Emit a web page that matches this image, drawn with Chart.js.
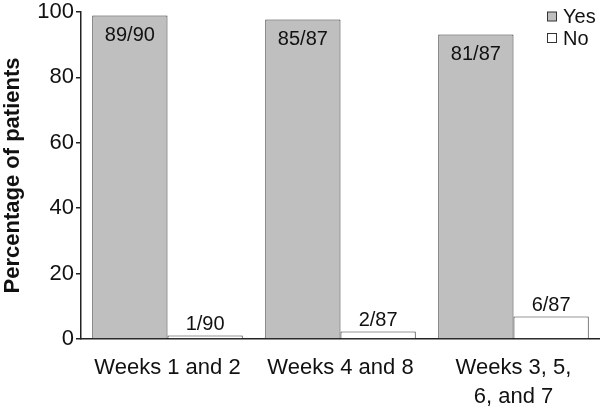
<!DOCTYPE html>
<html>
<head>
<meta charset="utf-8">
<script src="https://cdn.jsdelivr.net/npm/chart.js@4/dist/chart.umd.min.js"></script>
<style>
html,body{margin:0;padding:0;background:#fff;}
#wrap{width:600px;height:407px;}
</style>
</head>
<body>
<div id="wrap"><canvas id="c" width="600" height="407"></canvas></div>
<script>
const categories = ["Weeks 1 and 2", "Weeks 4 and 8", ["Weeks 3, 5,", "6, and 7"]];
const seriesNames = ["Yes", "No"];
const yesValues = [98.9, 97.7, 93.1];
const noValues = [1.1, 2.3, 6.9];
const yesLabels = ["89/90", "85/87", "81/87"];
const noLabels = ["1/90", "2/87", "6/87"];
const yTicks = [0, 20, 40, 60, 80, 100];

const FONT = "'Liberation Sans', Arial, Helvetica, sans-serif";

const labelPlugin = {
  id: 'labels',
  afterDatasetsDraw(chart) {
    const ctx = chart.ctx;
    ctx.save();
    ctx.font = "20px " + FONT;
    ctx.fillStyle = "#111";
    ctx.textAlign = "center";
    const m0 = chart.getDatasetMeta(0);
    const m1 = chart.getDatasetMeta(1);
    m0.data.forEach((bar, i) => {
      ctx.textBaseline = "middle";
      ctx.fillText(yesLabels[i], bar.x, bar.y + 20);
    });
    m1.data.forEach((bar, i) => {
      ctx.textBaseline = "bottom";
      ctx.fillText(noLabels[i], bar.x, bar.y - 1);
    });
    // legend
    const items = chart.data.datasets;
    const lx = 547, ly = [16.5, 38];
    ctx.textAlign = "left";
    ctx.textBaseline = "middle";
    items.forEach((ds, i) => {
      ctx.fillStyle = ds.backgroundColor;
      ctx.fillRect(lx + 0.5, ly[i] - 4.5, 9, 9);
      ctx.strokeStyle = "#333";
      ctx.lineWidth = 1;
      ctx.strokeRect(lx + 0.5, ly[i] - 4.5, 9, 9);
      ctx.fillStyle = "#111";
      ctx.font = "20px " + FONT;
      ctx.fillText(ds.label, lx + 16, ly[i] + 1);
    });
    ctx.restore();
  }
};

new Chart(document.getElementById('c'), {
  type: 'bar',
  data: {
    labels: categories,
    datasets: [
      { label: seriesNames[0], data: yesValues, backgroundColor: "#bfbfbf", borderColor: "#333", borderWidth: 1 },
      { label: seriesNames[1], data: noValues, backgroundColor: "#ffffff", borderColor: "#333", borderWidth: 1 }
    ]
  },
  options: {
    responsive: false,
    animation: false,
    events: [],
    layout: { padding: { top: 10, right: 0, left: 0, bottom: 0 } },
    plugins: { legend: { display: false }, tooltip: { enabled: false } },
    datasets: { bar: { categoryPercentage: 0.87, barPercentage: 1.0 } },
    scales: {
      x: {
        grid: { display: false },
        border: { display: true, color: "#222", width: 1.5 },
        ticks: { color: "#111", font: { family: FONT, size: 22, lineHeight: 1.3 }, padding: 7, maxRotation: 0, autoSkip: false },
        afterFit(s) { s.height = 68; }
      },
      y: {
        min: 0, max: 100,
        afterBuildTicks(s) { s.ticks = yTicks.map(v => ({ value: v })); },
        grid: { drawOnChartArea: false, drawTicks: true, tickLength: 5, color: "#222", lineWidth: 1.5 },
        border: { display: true, color: "#222", width: 1.5 },
        ticks: { color: "#111", font: { family: FONT, size: 22, lineHeight: 0.9 }, padding: 2 },
        title: { display: true, text: "Percentage of patients", color: "#111", font: { family: FONT, size: 22, weight: "bold" }, padding: { top: 0, bottom: 0 } },
        afterFit(s) { s.width = 81; }
      }
    }
  },
  plugins: [labelPlugin]
});
</script>
</body>
</html>
